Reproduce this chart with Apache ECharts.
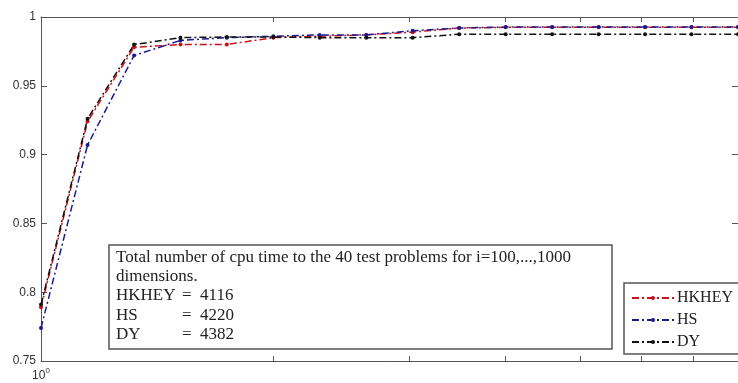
<!DOCTYPE html>
<html>
<head>
<meta charset="utf-8">
<script src="https://cdn.jsdelivr.net/npm/echarts@6/dist/echarts.min.js"></script>
<style>
html, body { margin: 0; padding: 0; background: #fff; }
#chart { width: 738px; height: 383px; }
</style>
</head>
<body>
<div id="chart"></div>
<script>
// tau values (log axis)
var tau = [1, 1.149, 1.320, 1.516, 1.741, 2, 2.297, 2.639, 3.031, 3.482, 4, 4.595, 5.278, 6.063, 6.964, 8];
var hkhey = [0.789, 0.924, 0.978, 0.980, 0.980, 0.985, 0.986, 0.987, 0.989, 0.992, 0.9925, 0.9925, 0.9925, 0.9925, 0.9925, 0.9925];
var hs = [0.774, 0.907, 0.972, 0.983, 0.985, 0.986, 0.987, 0.987, 0.990, 0.992, 0.9927, 0.9927, 0.9927, 0.9927, 0.9927, 0.9927];
var dy = [0.791, 0.926, 0.980, 0.985, 0.9855, 0.9855, 0.985, 0.985, 0.985, 0.9875, 0.9875, 0.9875, 0.9875, 0.9875, 0.9875, 0.9875];
var xTicks = [1, 2, 3, 4, 5, 6, 7];
var methods = ['HKHEY', 'HS', 'DY'];
var cpuTotals = [4116, 4220, 4382];
var boxTitle = ['Total number of cpu time to the 40 test problems for i=100,...,1000', 'dimensions.'];

var dashDot = [7, 3, 2, 3];
var boxColor = '#555';
var serif = '"Liberation Serif", "Times New Roman", serif';

function pairs(ys) {
	var out = [];
	for (var i = 0; i < tau.length; i++) {
		out.push([tau[i], ys[i]]);
	}
	return out;
}

function mkSeries(name, ys, color) {
	return {
		name : name,
		type : 'line',
		data : pairs(ys),
		symbol : 'circle',
		symbolSize : 4,
		itemStyle : { color : color },
		lineStyle : { color : color, width : 1.5, type : dashDot },
		animation : false
	};
}

// text box with totals
var graphics = [];
graphics.push({
	type : 'rect',
	shape : { x : 109, y : 245, width : 503, height : 104 },
	style : { fill : '#fff', stroke : boxColor, lineWidth : 1.5 },
	z : 100
});
var txtFont = '17px ' + serif;
for (var t = 0; t < boxTitle.length; t++) {
	graphics.push({
		type : 'text', left : 116, top : 249 + t * 19.2, z : 101,
		style : { text : boxTitle[t], font : txtFont, fill : '#222' }
	});
}
for (var m = 0; m < methods.length; m++) {
	var yy = 249 + (m + 2) * 19.2;
	graphics.push({
		type : 'text', left : 116, top : yy, z : 101,
		style : { text : methods[m], font : txtFont, fill : '#222' }
	});
	graphics.push({
		type : 'text', left : 182, top : yy, z : 101,
		style : { text : '=  ' + cpuTotals[m], font : txtFont, fill : '#222' }
	});
}

var axisBase = {
	type : 'log',
	logBase : 10,
	min : 1,
	max : 8,
	axisLine : { show : true, lineStyle : { color : boxColor, width : 1 } },
	splitLine : { show : false },
	minorTick : { show : false }
};

var option = {
	backgroundColor : '#fff',
	animation : false,
	grid : { left : 41, top : 17, right : -8, bottom : 22 },
	legend : {
		orient : 'vertical',
		left : 624,
		top : 283,
		data : methods,
		itemWidth : 42,
		itemHeight : 5,
		itemGap : 6,
		padding : [7, 14, 4, 7],
		backgroundColor : '#fff',
		borderColor : boxColor,
		borderWidth : 1.5,
		borderRadius : 0,
		textStyle : { fontFamily : serif, fontSize : 16, color : '#222', padding : [0, 0, 0, -2] },
		z : 100
	},
	xAxis : [
		Object.assign({}, axisBase, {
			position : 'bottom',
			axisTick : { show : true, inside : true, length : 5, customValues : xTicks, lineStyle : { color : boxColor } },
			axisLabel : {
				show : true,
				customValues : [1],
				margin : 3,
				formatter : function() { return '{b|10}{s|0}'; },
				rich : {
					b : { fontFamily : 'Liberation Sans, Arial', fontSize : 12, color : '#333', padding : [6, 0, 0, 0] },
					s : { fontFamily : 'Liberation Sans, Arial', fontSize : 8, color : '#333', padding : [0, 0, 4, 0] }
				}
			}
		}),
		Object.assign({}, axisBase, {
			position : 'top',
			axisTick : { show : true, inside : true, length : 5, customValues : xTicks, lineStyle : { color : boxColor } },
			axisLabel : { show : false }
		})
	],
	yAxis : [{
		type : 'value',
		min : 0.75,
		max : 1,
		interval : 0.05,
		position : 'left',
		axisLine : { show : true, lineStyle : { color : boxColor, width : 1 } },
		axisTick : { show : true, inside : true, length : 6, lineStyle : { color : boxColor } },
		splitLine : { show : false },
		axisLabel : { fontFamily : 'Liberation Sans, Arial', fontSize : 12, color : '#333', margin : 5 }
	}, {
		type : 'value',
		min : 0.75,
		max : 1,
		interval : 0.05,
		position : 'right',
		axisLine : { show : true, lineStyle : { color : boxColor, width : 1 } },
		axisTick : { show : true, inside : true, length : 6, lineStyle : { color : boxColor } },
		splitLine : { show : false },
		axisLabel : { show : false }
	}],
	series : [
		mkSeries(methods[0], hkhey, '#cc1018'),
		mkSeries(methods[1], hs, '#1a1a90'),
		mkSeries(methods[2], dy, '#111111')
	],
	graphic : graphics
};

var myChart = echarts.init(document.getElementById('chart'));
myChart.setOption(option, true);
</script>
</body>
</html>
